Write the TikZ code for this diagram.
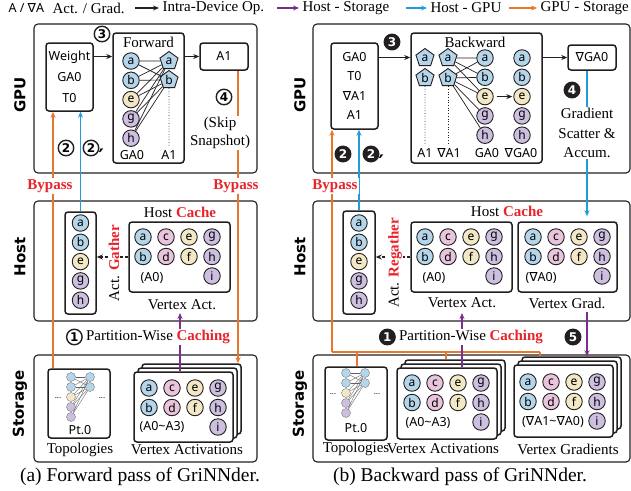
\documentclass[tikz,border=0pt]{standalone}
\usepackage{fontspec}
\setmainfont{Liberation Serif}
\setsansfont{Noto Sans}
\newfontfamily\symf{DejaVu Sans}
\usepackage{tikz}
\usetikzlibrary{arrows.meta, positioning, calc, shapes.geometric}
\usepackage{xcolor}
\definecolor{cline}{HTML}{231F20}
\definecolor{cblue}{HTML}{B5D5EA}
\definecolor{cpink}{HTML}{E8C4DD}
\definecolor{cyel}{HTML}{F3E8C5}
\definecolor{cpur}{HTML}{CDBFDF}
\definecolor{corange}{HTML}{E8762B}
\definecolor{cgpu}{HTML}{1F9BDE}
\definecolor{cpurple}{HTML}{7A2E8E}
\definecolor{cred}{HTML}{E8242B}
\newcommand{\nab}{{\symf ∇}}
\tikzset{
  panel/.style={draw=cline, rounded corners=4pt, line width=1.1pt},
  blk/.style={draw=cline, fill=white, rounded corners=3pt, line width=1.5pt, inner sep=0pt},
  vtx/.style={circle, draw=cline, line width=0.9pt, minimum size=16.5pt, inner sep=0pt, font=\sffamily\fontsize{12}{12}\selectfont},
  vb/.style={vtx, fill=cblue}, vp/.style={vtx, fill=cpink},
  vy/.style={vtx, fill=cyel}, vv/.style={vtx, fill=cpur},
  pent/.style={regular polygon, regular polygon sides=5, draw=cline, line width=0.9pt, fill=cblue, minimum size=19pt, inner sep=0pt, font=\sffamily\fontsize{12}{12}\selectfont},
  tv/.style={circle, draw=cline!60, line width=0.4pt, minimum size=9pt, inner sep=0pt},
  lnk/.style={line width=0.7pt, cline},
  dev/.style={rotate=90, font=\symf\bfseries\fontsize{15}{15}\selectfont},
  txt/.style={font=\sffamily\fontsize{12.5}{21}\selectfont},
  lbl/.style={font=\fontsize{15}{18}\selectfont},
  capt/.style={font=\fontsize{19.5}{22}\selectfont},
  cno/.style={circle, draw=cline, line width=1.4pt, fill=white, minimum size=15.5pt, inner sep=0pt, font=\symf\bfseries\fontsize{12}{12}\selectfont},
  cnf/.style={cno, fill=cline, text=white},
  prm/.style={label={[inner sep=0pt, label distance=-1pt, font=\symf\bfseries\fontsize{20}{20}\selectfont]-8:′}},
  bypass/.style={font=\bfseries\fontsize{15}{15}\selectfont, text=cred, fill=white, inner sep=1pt},
  op/.style={line width=1.2pt, cline, -{Stealth[length=6pt, width=5pt]}},
  hs/.style={op, cpurple}, hg/.style={op, cgpu}, gs/.style={op, corange},
  gl/.style={line width=1.2pt, corange},
}
% vertex grid: prefix, x of first column, y of first row
\newcommand{\vgrid}[3]{%
  \foreach \vl/\vc/\vr/\vs in {a/0/0/vb,b/0/1/vb,c/1/0/vp,d/1/1/vp,e/2/0/vy,f/2/1/vy,g/3/0/vv,h/3/1/vv,i/3/2/vv}
    \node[\vs] (#1\vl) at ({#2+23*\vc},{#3+19.5*\vr}) {\vl};}
% gathered column
\newcommand{\vcol}[3]{%
  \foreach \vl/\vs [count=\k from 0] in {a/vb,b/vb,e/vy,g/vv,h/vv}
    \node[\vs] (#1\vl) at ({#2},{#3+19.3*\k}) {\vl};}
% stacked snapshots: name, center, width, height
\newcommand{\vstack}[5]{%
  \foreach \o in {8,4}
    \node[blk, minimum width=#4, minimum height=#5] (#1\o) at ({#2+\o},{#3-\o}) {};
  \node[blk, minimum width=#4, minimum height=#5] (#1) at (#2,#3) {};}
% topology icon
\newcommand{\topo}[3]{%
  \foreach \s [count=\k from 0] in {cblue,cblue,cyel,cpur,cpur}
    \node[tv, fill=\s] (#1l\k) at ({#2},{#3+10*\k}) {};
  \foreach \k in {0,1}
    \node[tv, fill=cblue] (#1r\k) at ({#2+19},{#3+10*\k}) {};
  \foreach \k in {0,...,4} \foreach \j in {0,1}
    \draw[line width=0.35pt, cline!70] (#1l\k) -- (#1r\j);
  \node[font=\sffamily\fontsize{8}{8}\selectfont] (#1d1) at ({#2-13},{#3+21}) {...};
  \node[font=\sffamily\fontsize{8}{8}\selectfont] (#1d2) at ({#2+31},{#3+21}) {...};}

\begin{document}
\begin{tikzpicture}[x=1pt, y=-1pt]
  \useasboundingbox (0,0) rectangle (631,490);

  % legend
  \node[txt, anchor=west] (lgA) at (5,8) {A / \nab A};
  \node[lbl, anchor=west] (lg0) at (49,8) {Act. / Grad.};
  \node[lbl, anchor=west] (lg1) at (159,8) {Intra-Device Op.};
  \node[lbl, anchor=west] (lg2) at (299,8) {Host - Storage};
  \node[lbl, anchor=west] (lg3) at (427,8) {Host - GPU};
  \node[lbl, anchor=west] (lg4) at (537,8) {GPU - Storage};
  \draw[op] ([xshift=-24pt]lg1.west) -- (lg1.west);
  \draw[hs] ([xshift=-22pt]lg2.west) -- (lg2.west);
  \draw[hg] ([xshift=-21pt]lg3.west) -- (lg3.west);
  \draw[gs] ([xshift=-28pt]lg4.west) -- (lg4.west);

  % ---------------- (a) forward ----------------
  \draw[panel] (34,24) rectangle (257,173);
  \draw[panel] (34,201) rectangle (257,321);
  \draw[panel] (34,355) rectangle (257,462);
  \node[dev] (gpuA) at (20,95) {GPU};
  \node[dev] (hostA) at (20,257) {Host};
  \node[dev] (stoA) at (20,404) {Storage};

  \node[blk, txt, align=center, minimum width=47pt, minimum height=68pt] (wgt) at (69.5,77) {Weight\\GA0\\T0};
  \node[blk, minimum width=71pt, minimum height=130pt] (fwd) at (148.5,98) {};
  \node[lbl] (fwdt) at (148.5,42) {Forward};
  \vcol{f}{131}{61}
  \node[pent] (pa) at (169,61) {a};
  \node[pent] (pb) at (169,80) {b};
  \node[txt] (fl1) at (132,155) {GA0};
  \node[txt] (fl2) at (169,155) {A1};
  \foreach \u in {a,b,e,g,h} \foreach \v in {a,b} \draw[lnk] (f\u) -- (p\v);
  \draw[lnk, dotted] (pb.south) -- (fl2.north);
  \node[blk, txt, minimum width=48pt, minimum height=27pt] (a1) at (224,56.5) {A1};

  \node[blk, minimum width=31pt, minimum height=102pt] (gcol) at (80.5,263) {};
  \vcol{gc}{80.5}{223}
  \node[lbl] (hcA) at (180,212) {Host \textcolor{cred}{\textbf{Cache}}};
  \node[blk, minimum width=101pt, minimum height=70pt] (hcbox) at (179.5,257) {};
  \vgrid{hc}{143}{237}
  \node[txt] (hcl) at (152,278) {(A0)};
  \node[lbl] (hva) at (182,305) {Vertex Act.};

  \node[blk, minimum width=62pt, minimum height=69pt] (topo) at (79,403.5) {};
  \topo{ta}{71}{377}
  \node[txt] (pta) at (80,430) {Pt.0};
  \node[lbl] (tpa) at (80,450) {Topologies};
  \vstack{sact}{183.5}{407}{99}{70}
  \vgrid{sa}{149}{388}
  \node[txt] (sal) at (162,427) {(A0\textasciitilde A3)};
  \node[lbl] (vaa) at (187,450) {Vertex Activations};
  \node[capt] (capA) at (140,477) {(a) Forward pass of GriNNder.};

  % connectors (a)
  \coordinate (xb) at (53,0);
  \coordinate (xs) at (238,0);
  \coordinate (xp) at (180,313);
  \draw[op] (wgt.east |- a1) -- (fwd.west |- a1);
  \draw[op] (fwd.east |- a1) -- (a1.west);
  \draw[gs] (topo.north -| xb) -- (wgt.south -| xb);
  \draw[hg] (gcol.north) -- (gcol.north |- wgt.south);
  \draw[gs] (a1.south -| xs) -- (sact8.north -| xs);
  \draw[op, dash pattern=on 3pt off 2pt] (hcbox.west) -- (hcbox.west -| gcol.east);
  \draw[hs] (sact.north -| xp) -- (xp);
  \node[lbl, rotate=90, fill=white, inner sep=1pt] (gath) at (114,263) {Act. \textcolor{cred}{\textbf{Gather}}};
  \node[bypass] (bpA1) at (50,186) {Bypass};
  \node[bypass] (bpA2) at (236,186) {Bypass};
  \node[lbl, align=center, fill=white, inner sep=1pt] (skip) at (220,133) {(Skip\\Snapshot)};
  \node[cno] (n3) at (102,34) {3};
  \node[cno] (n4) at (224,97) {4};
  \node[cno] (n2) at (66,148) {2};
  \node[cno, prm] (n2p) at (91,148) {2};
  \node[lbl, fill=white, inner sep=1pt] (cachA) at (158,337) {Partition-Wise \textcolor{cred}{\textbf{Caching}}};
  \node[cno, left=2pt of cachA] (n1) {1};

  % ---------------- (b) backward ----------------
  \draw[panel] (313,24) rectangle (630,173);
  \draw[panel] (313,201) rectangle (630,321);
  \draw[panel] (313,355) rectangle (630,462);
  \node[dev] (gpuB) at (300,95) {GPU};
  \node[dev] (hostB) at (300,257) {Host};
  \node[dev] (stoB) at (300,404) {Storage};

  \node[blk, txt, align=center, minimum width=47pt, minimum height=86pt, font=\sffamily\fontsize{12.5}{19.5}\selectfont] (lbx) at (354.5,86) {GA0\\T0\\\nab A1\\A1};
  \node[blk, minimum width=131pt, minimum height=130pt] (bwd) at (476.5,98) {};
  \node[lbl] (bwdt) at (475,42) {Backward};
  \node[pent] (oa) at (425,58) {a};
  \node[pent] (ob) at (425,78) {b};
  \node[pent] (qa) at (448,58) {a};
  \node[pent] (qb) at (448,78) {b};
  \vcol{g}{485}{58}
  \vcol{n}{522}{58}
  \node[txt] (bl1) at (425,153) {A1};
  \node[txt] (bl2) at (449,153) {\nab A1};
  \node[txt] (bl3) at (487,153) {GA0};
  \node[txt] (bl4) at (521,153) {\nab GA0};
  \foreach \v in {a,b,e} \draw[lnk] (qa) -- (g\v);
  \foreach \v in {a,b,e,g,h} \draw[lnk] (qb) -- (g\v);
  \draw[lnk, dotted] (ob.south) -- (bl1.north);
  \draw[lnk, dotted] (qb.south) -- (qb.south |- bl2.north);
  \draw[op, shorten <=3pt, shorten >=1pt] (ge.east) -- (ne.west);
  \node[blk, txt, minimum width=48pt, minimum height=25pt] (ngd) at (592,57.5) {\nab GA0};

  \node[blk, minimum width=32pt, minimum height=103pt] (rcol) at (359,262.5) {};
  \vcol{rc}{359}{223}
  \node[lbl] (hcB) at (507,211) {Host \textcolor{cred}{\textbf{Cache}}};
  \node[blk, minimum width=101pt, minimum height=70pt] (acbox) at (461.5,257) {};
  \vgrid{ra}{425}{237}
  \node[txt] (ral) at (434,278) {(A0)};
  \node[blk, minimum width=99pt, minimum height=70pt] (gcbox) at (567.5,257) {};
  \vgrid{rg}{533}{237}
  \node[txt] (rgl) at (541,278) {(\nab A0)};
  \node[lbl] (hvb) at (462,303) {Vertex Act.};
  \node[lbl] (hvg) at (567,303) {Vertex Grad.};

  \node[blk, minimum width=62pt, minimum height=73pt] (rtopo) at (356,403.5) {};
  \topo{tb}{346}{373}
  \node[txt] (ptb) at (356,428) {Pt.0};
  \node[lbl] (tpb) at (356,449) {Topologies};
  \vstack{rsact}{447}{403.5}{100}{71}
  \vgrid{sb}{412}{383}
  \node[txt] (sbl) at (428,423) {(A0\textasciitilde A3)};
  \vstack{rsgrad}{563.5}{401}{99}{72}
  \vgrid{sg}{528}{382}
  \node[txt] (sgl) at (553,422) {(\nab A1\textasciitilde\nab A0)};
  \node[lbl] (vab) at (443,449) {Vertex Activations};
  \node[lbl] (vgb) at (568,449) {Vertex Gradients};
  \node[capt] (capB) at (460,477) {(b) Backward pass of GriNNder.};

  % connectors (b)
  \coordinate (yb) at (332,352);
  \coordinate (yt) at (357,352);
  \coordinate (ya) at (446,352);
  \coordinate (ye) at (540,352);
  \coordinate (xg) at (587,0);
  \coordinate (xq) at (462,313);
  \coordinate (xr) at (587,312);
  \draw[op] (lbx.east |- ngd) -- (bwd.west |- ngd);
  \draw[op] (bwd.east |- ngd) -- (ngd.west);
  \draw[gs] (yb) -- (yb |- lbx.south);
  \draw[gl] (yb) -- (ye);
  \draw[gl] (yt) -- (yt |- rtopo.north);
  \draw[gl] (ya) -- (ya |- rsact8.north);
  \draw[gl] (ye) -- (ye |- rsgrad8.north);
  \draw[hg] (rcol.north) -- (rcol.north |- lbx.south);
  \draw[hg] (ngd.south -| xg) -- ([yshift=5pt]gcbox.north -| xg);
  \draw[op, dash pattern=on 3pt off 2pt] (acbox.west) -- (acbox.west -| rcol.east);
  \draw[hs] (rsact.north -| xq) -- (xq);
  \draw[hs] (xr) -- (rsgrad8.north -| xr);
  \node[lbl, rotate=90, fill=white, inner sep=1pt] (regath) at (395,263) {Act. \textcolor{cred}{\textbf{Regather}}};
  \node[bypass] (bpB) at (335,186) {Bypass};
  \node[lbl, align=center, fill=white, inner sep=1pt, font=\fontsize{15}{19.5}\selectfont] (gsa) at (587,133) {Gradient\\Scatter \&\\Accum.};
  \node[cnf] (m3) at (392,42) {3};
  \node[cnf] (m4) at (572,90) {4};
  \node[cnf] (m2) at (343,154) {2};
  \node[cnf, prm] (m2p) at (371,154) {2};
  \node[cnf] (m5) at (573,337) {5};
  \node[lbl, fill=white, inner sep=1pt] (cachB) at (471,337) {Partition-Wise \textcolor{cred}{\textbf{Caching}}};
  \node[cnf, left=2pt of cachB] (m1) {1};
\end{tikzpicture}
\end{document}
